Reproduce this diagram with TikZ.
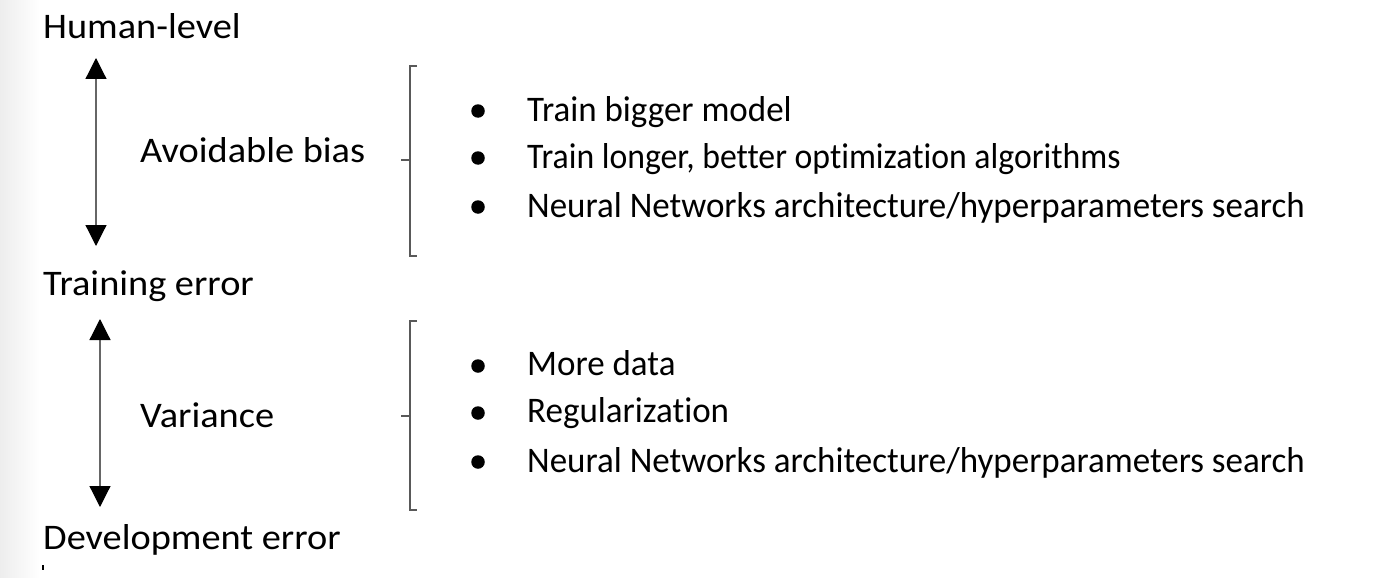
\documentclass[tikz,border=0pt]{standalone}
\usepackage{fontspec}
\setmainfont{Carlito}[Ligatures=NoCommon]
\usetikzlibrary{arrows.meta}
\begin{document}
\begin{tikzpicture}[x=1pt,y=-1pt,
  lbl/.style={anchor=base west,inner sep=0pt,font=\fontsize{36}{42}\selectfont,xscale=1.065,transform shape},
  item/.style={anchor=base west,inner sep=0pt,font=\fontsize{36}{42}\selectfont,xscale=0.972,transform shape},
  tip/.style={Triangle[width=21pt,length=21pt,color=black]},
  dbl/.style={{Triangle[width=21pt,length=21pt,color=black]}-{Triangle[width=21pt,length=21pt,color=black]},line width=1.2pt,draw=black!60},
  brk/.style={draw=black!65,line width=1.5pt},
  bul/.style={circle,fill=black,inner sep=0pt,minimum size=13.5pt}]
\useasboundingbox (0,0) rectangle (1384,578);
\shade[left color=black!7,right color=white] (0,0) rectangle (40,578);
% left labels
\node[lbl] (hl) at (43,39) {Human-level};
\node[lbl] (te) at (43,295) {Training error};
\node[lbl] (de) at (43,549) {Development error};
\node[lbl] (ab) at (140,162) {Avoidable bias};
\node[lbl] (va) at (140,427) {Variance};
\coordinate (a1t) at (96,58);
\coordinate (a1b) at (96,246);
\coordinate (a2t) at (100,319);
\coordinate (a2b) at (100,507);
\draw[dbl] (a1t) -- (a1b);
\draw[dbl] (a2t) -- (a2b);
% brackets
\coordinate (b1t) at (417,66);
\coordinate (b1b) at (417,256);
\coordinate (b1m) at (401,160);
\draw[brk] (b1t) -- (410,66) -- (410,256) -- (b1b);
\draw[brk] (410,160) -- (b1m);
\coordinate (b2t) at (417,321);
\coordinate (b2b) at (417,510);
\coordinate (b2m) at (401,416);
\draw[brk] (b2t) -- (410,321) -- (410,510) -- (b2b);
\draw[brk] (410,416) -- (b2m);
% bullets
\node[bul] (p1) at (478,111) {};
\node[bul] (p2) at (478,158) {};
\node[bul] (p3) at (478,207) {};
\node[bul] (q1) at (478,366) {};
\node[bul] (q2) at (478,413) {};
\node[bul] (q3) at (478,462) {};
\node[item] (t1) at (527,121) {Train bigger model};
\node[item,xscale=0.964] (t2) at (527,168) {Train longer, better optimization algorithms};
\node[item] (t3) at (527,217) {Neural Networks architecture/hyperparameters search};
\node[item] (u1) at (527,375) {More data};
\node[item] (u2) at (527,422) {Regularization};
\node[item] (u3) at (527,472) {Neural Networks architecture/hyperparameters search};
\coordinate (tk1) at (43,565);
\coordinate (tk2) at (43,570);
\draw[line width=1.5pt] (tk1) -- (tk2);
\end{tikzpicture}
\end{document}
